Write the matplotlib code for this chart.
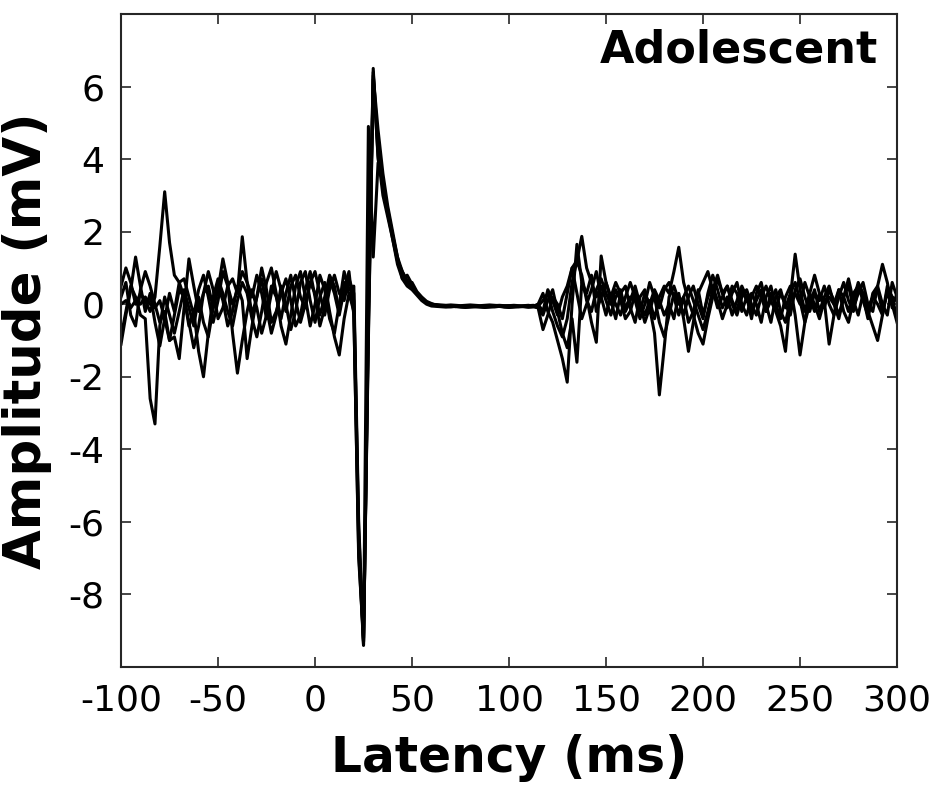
import numpy as np
import matplotlib
matplotlib.use('Agg')
import matplotlib.pyplot as plt

# latency grid (ms), 2.5 ms steps
latency = np.arange(-100, 300.01, 2.5)

# pre-stimulus baseline, -100 .. 17.5 ms
pre1 = [0.5, 1.0, 0.6, 0.0, 0.3, 0.1, -0.2, 0.2,
        1.6, 3.1, 1.7, 0.8, 0.6, 0.7, 0.2, -0.3,
        0.4, 0.8, 0.2, -0.5, 0.1, 0.9, 0.5, 0.0,
        0.4, 0.9, 0.6, 0.2, 0.8, 0.3, -0.4, 0.3,
        0.9, 0.4, -0.2, 0.5, 0.8, 0.2, -0.1, 0.6,
        0.9, 0.3, -0.3, 0.4, 0.8, 0.3, 0.1, 0.7]
pre2 = [-0.9, -0.2, 0.5, 0.2, -0.3, -0.4, -2.6, -3.3,
        -0.6, 0.2, -0.3, -0.8, -0.2, 0.4, -0.1, -0.6,
        0.2, -0.5, -0.9, -0.1, 0.5, 0.1, -0.6, -0.2,
        0.5, 0.1, -1.5, -0.6, 0.2, 0.7, -0.1, -0.8,
        -0.3, 0.5, 0.0, -0.7, -0.2, 0.6, 0.9, 0.1,
        -0.5, 0.2, 0.6, -0.2, -0.9, -1.4, -0.4, 0.3]
pre3 = [-1.1, -0.3, 0.4, 1.3, 0.5, -0.2, 0.3, -0.5,
        -1.15, -0.4, 0.3, -0.2, 0.6, 0.2, -0.6, -0.2,
        -1.3, -2.0, -0.8, 0.2, 0.7, 0.3, -0.2, -0.6,
        0.1, 0.6, 0.3, -0.4, -0.9, -0.2, 0.6, 1.0,
        0.3, -0.6, -1.1, -0.3, 0.5, 0.9, 0.2, -0.6,
        0.0, 0.8, 0.4, -0.4, -0.8, 0.0, 0.9, 0.4]
pre4 = [0.2, 0.6, -0.3, -0.6, 0.4, 0.9, 0.5, 0.0,
        -0.5, -0.2, -1.0, -0.9, -1.5, -0.1, 1.25, 0.5,
        -0.2, 0.3, 0.9, 0.4, -0.4, -0.1, 0.5, 0.7,
        0.3, 1.86, 0.6, -0.3, 0.2, 1.0, 0.4, -0.5,
        -0.2, 0.3, 0.7, 0.1, -0.6, -0.3, 0.4, 0.9,
        0.2, -0.6, -0.1, 0.7, 0.3, -0.3, 0.4, 0.9]
pre5 = [0.0, 0.1, -0.1, 0.1, 0.0, 0.2, 0.0, -0.1,
        0.1, -0.4, -1.0, -0.3, 0.4, 0.2, -0.5, -1.2,
        -0.6, 0.3, 0.5, -0.1, 0.4, 1.25, 0.6, -0.8,
        -1.9, -1.0, -0.2, 0.4, -0.1, -0.8, -0.3, 0.5,
        0.2, -0.4, 0.3, 0.8, 0.1, -0.5, 0.0, 0.6,
        0.3, -0.3, 0.2, 0.8, 0.5, -0.2, 0.6, 0.3]

# stimulus artefact + response, 20 .. 112.5 ms
resp1 = [0.3, -6.5, -9.4, -0.5, 6.5, 4.0, 3.3, 2.6, 1.9, 1.3, 0.9, 0.65, 0.5, 0.3, 0.15, 0.05, 0.0,
         -0.02, -0.04, -0.05, -0.05, -0.04, -0.05, -0.06, -0.05, -0.04, -0.05, -0.06,
         -0.05, -0.04, -0.03, -0.04, -0.05, -0.06, -0.05, -0.04, -0.03, -0.05]
resp2 = [-0.2, -7.0, -9.2, 4.9, 1.3, 3.9, 3.4, 2.5, 1.8, 1.2, 0.8, 0.6, 0.45, 0.3, 0.12, 0.05, -0.02,
         -0.04, -0.05, -0.06, -0.05, -0.07, -0.06, -0.05, -0.06, -0.07, -0.06, -0.05,
         -0.06, -0.07, -0.06, -0.05, -0.04, -0.06, -0.07, -0.06, -0.05, -0.06]
resp3 = [0.5, -6.0, -9.3, -1.0, 6.3, 4.8, 3.6, 2.7, 2.0, 1.3, 0.7, 0.8, 0.55, 0.3, 0.15, 0.05, 0.0,
         -0.01, -0.02, -0.03, -0.02, -0.03, -0.04, -0.03, -0.02, -0.03, -0.04, -0.03,
         -0.02, -0.03, -0.04, -0.05, -0.04, -0.03, -0.04, -0.05, -0.04, -0.03]
resp4 = [-0.3, -6.8, -9.4, -0.2, 6.4, 4.3, 3.2, 2.5, 1.9, 1.2, 0.9, 0.6, 0.6, 0.35, 0.2, 0.08, 0.02,
         -0.03, -0.05, -0.06, -0.07, -0.06, -0.07, -0.08, -0.07, -0.06, -0.07, -0.08,
         -0.07, -0.06, -0.05, -0.07, -0.08, -0.07, -0.06, -0.07, -0.08, -0.07]
resp5 = [0.1, -6.2, -9.3, -0.8, 6.2, 4.1, 3.0, 2.4, 1.8, 1.1, 0.7, 0.5, 0.4, 0.25, 0.1, 0.0, -0.05,
         -0.06, -0.07, -0.08, -0.07, -0.06, -0.08, -0.09, -0.08, -0.07, -0.08, -0.09,
         -0.08, -0.07, -0.06, -0.08, -0.09, -0.08, -0.07, -0.06, -0.08, -0.07]

# post-response activity, 115 .. 300 ms
post1 = [-0.1, -0.7, -0.3, 0.2, 0.0, -0.4, 0.3, 1.0, 1.2, 1.87, 1.0, 0.6, 0.2, 0.5, 0.1,
         -0.3, 0.2, 0.4, -0.2, 0.1, 0.5, 0.0, -0.3, 0.1, -0.4, 0.2, 0.5, 0.3, 0.9, 1.57,
         0.6, 0.1, -0.3, -0.8, -1.1, -0.4, 0.2, 0.7, 0.3, 0.5, 0.1, -0.2, 0.4, 0.1, 0.3,
         0.0, -0.5, 0.2, 0.5, -0.1, 0.3, 0.0, -0.3, 0.4, 0.7, 0.2, -0.2, 0.3, 0.1, 0.5,
         0.0, -0.3, 0.2, 0.6, 0.1, -0.2, 0.4, 0.2, -0.4, 0.3, 0.5, 0.0, -0.3, 0.6, 0.2]
post2 = [0.0, 0.3, -0.2, -0.5, -1.0, -1.5, -2.15, 0.0, 1.65, 0.6, 0.3, 0.8, -0.2, 0.2, 0.6,
         0.1, -0.4, 0.3, 0.5, -0.1, -0.5, 0.2, 0.4, -0.2, 0.3, -0.1, 0.4, 0.6, 0.2, -0.3,
         0.2, -0.5, -0.2, 0.4, -0.3, 0.2, 0.5, 0.1, -0.4, 0.0, 0.5, 0.3, -0.2, 0.2, -0.4,
         0.3, 0.6, 0.0, -0.5, 0.2, 0.4, -0.1, 0.3, 0.6, 0.1, -0.5, 0.0, 0.4, -0.2, 0.2,
         0.5, 0.0, -0.4, 0.2, 0.7, 0.1, -0.3, 0.3, -0.2, -0.6, -1.0, -0.3, 0.4, 0.2, -0.4]
post3 = [-0.05, 0.1, 0.3, -0.2, -0.6, -0.9, -0.4, 0.6, 1.2, 0.8, 0.1, -0.2, 0.4, 0.7, 0.3,
         0.0, 0.4, 0.1, -0.4, -0.2, 0.3, 0.0, -0.5, -0.1, -0.8, -2.5, -1.2, 0.2, 0.5, 0.1,
         -0.3, 0.2, 0.5, 0.0, -0.4, 0.3, 0.8, 0.4, -0.1, 0.2, -0.3, 0.1, 0.5, 0.2, -0.2,
         0.1, 0.4, -0.2, 0.3, 0.0, -0.4, 0.2, 0.5, -0.3, -1.4, -0.5, 0.3, 0.8, 0.3, -0.1,
         0.4, 0.1, -0.3, 0.2, 0.5, -0.1, 0.3, 0.6, 0.0, -0.2, 0.5, 1.1, 0.6, -0.1, 0.3]
post4 = [-0.1, -0.3, 0.1, 0.4, -0.2, -0.8, -1.2, -0.4, -1.6, 0.6, 0.2, -0.5, -1.05, 1.33, 0.6,
         0.2, 0.6, 0.3, -0.1, 0.2, 0.1, -0.4, 0.0, 0.6, 0.2, -0.5, -0.9, -0.3, 0.3, 0.0,
         0.2, 0.5, 0.1, -0.3, -0.7, -0.2, 0.4, 0.8, 0.3, -0.1, 0.3, 0.6, 0.0, -0.3, 0.2,
         0.5, 0.2, -0.2, 0.1, 0.4, -0.2, -0.5, 0.1, 0.3, 0.0, 0.6, 0.2, -0.2, 0.3, 0.1,
         -1.1, -0.3, 0.4, 0.2, -0.2, 0.3, 0.5, 0.1, -0.3, 0.2, 0.4, -0.2, 0.3, 0.0, -0.5]
post5 = [0.0, -0.2, 0.4, 0.1, -0.3, 0.2, 0.5, 1.0, 0.3, -0.4, 0.0, 0.4, 0.9, 0.2, -0.3,
         0.3, 0.0, -0.3, 0.2, 0.6, 0.2, -0.2, 0.3, 0.0, 0.4, 0.1, -0.3, 0.0, -0.4, 0.3,
         -0.4, -1.3, -0.5, 0.3, 0.6, 0.9, 0.4, -0.1, 0.2, 0.5, 0.0, -0.3, 0.2, 0.4, 0.0,
         -0.3, 0.2, 0.5, 0.1, -0.2, -0.6, -1.3, 0.2, 1.38, 0.4, -0.2, 0.3, 0.0, -0.4, 0.1,
         0.2, 0.0, 0.4, -0.2, -0.5, 0.1, 0.6, 0.3, -0.1, 0.2, 0.0, -0.3, 0.5, 0.2, 0.1]

traces = [pre1 + resp1 + post1, pre2 + resp2 + post2, pre3 + resp3 + post3,
          pre4 + resp4 + post4, pre5 + resp5 + post5]

xticks = [-100, -50, 0, 50, 100, 150, 200, 250, 300]
yticks = [-8, -6, -4, -2, 0, 2, 4, 6]

plt.rcParams['font.family'] = 'DejaVu Sans'
plt.rcParams['axes.unicode_minus'] = False
fig = plt.figure(figsize=(9.31, 7.90), dpi=100)
ax = fig.add_axes([0.130, 0.1557, 0.8335, 0.8266])

for tr in traces:
    ax.plot(latency, tr, color='black', linewidth=2.2, solid_joinstyle='round')

ax.set_xlim(-100, 300)
ax.set_ylim(-10, 8)
ax.set_xticks(xticks)
ax.set_yticks(yticks)
ax.tick_params(direction='in', length=7, width=1.2, labelsize=26, pad=12,
               top=True, right=True, color='#262626')
for s in ax.spines.values():
    s.set_linewidth(1.5)
    s.set_color('#262626')

ax.set_xlabel('Latency (ms)', fontsize=35, fontweight='bold', labelpad=12)
ax.set_ylabel('Amplitude (mV)', fontsize=37, fontweight='bold', labelpad=12)
ax.text(0.976, 0.978, 'Adolescent', transform=ax.transAxes, ha='right', va='top',
        fontsize=32, fontweight='bold')

fig.savefig('out.png', dpi=100)
